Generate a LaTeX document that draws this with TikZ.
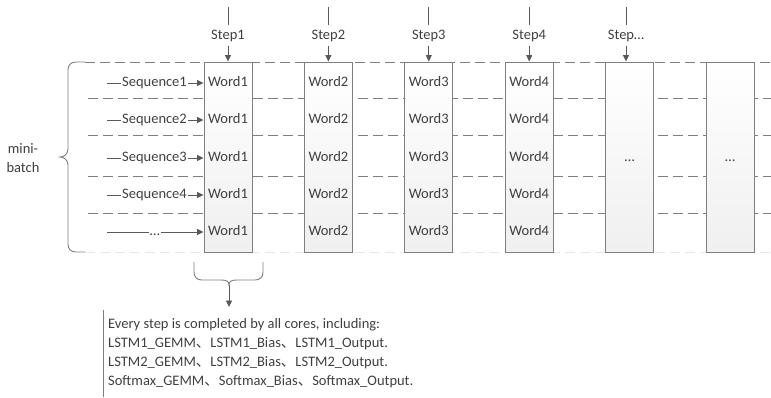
\documentclass[tikz,border=0pt]{standalone}
\usepackage{fontspec}
\setmainfont{Carlito}
\newfontfamily\cjk{Noto Sans CJK SC}
\usetikzlibrary{arrows.meta}
\definecolor{ink}{HTML}{404040}
\definecolor{linegray}{HTML}{595959}
\definecolor{boxgray}{HTML}{7F7F7F}
\definecolor{dashgray}{HTML}{7F7F7F}
\definecolor{faint}{HTML}{E8E8E8}

\begin{document}
\begin{tikzpicture}[x=1pt,y=-1pt,
  every node/.style={font=\fontsize{14.5}{18.5}\selectfont, text=ink},
  lbl/.style={inner sep=0.8pt, text height=7.2pt, text depth=0pt},
  steplbl/.style={inner xsep=1pt, inner ysep=7pt, text height=7.2pt, text depth=0pt},
  wordcol/.style={draw=boxgray, line width=0.9pt, top color=white, bottom color=black!6,
    minimum width=48pt, minimum height=190pt, inner sep=0pt},
  rowline/.style={draw=dashgray, line width=0.9pt, dash pattern=on 10pt off 5pt},
  conn/.style={draw=linegray, line width=0.9pt},
  tip/.style={-{Triangle[length=6.5pt,width=6pt]}},
  notebox/.style={anchor=north west, align=left, inner xsep=5pt, inner ysep=9pt,
    font=\fontsize{14.5}{19}\selectfont},
]
\useasboundingbox (0,0) rectangle (771,397);

% row separators
\foreach \y in {98,135,176,213} \draw[rowline] (88,\y) -- (771,\y);
\draw[rowline] (85,62) -- (771,62);
\draw[rowline, draw=faint] (85,252) -- (771,252);

% brace grouping the mini-batch
\draw[conn, draw=boxgray] (85,62) -- (76,62) .. controls (71,62) and (68,65) .. (68,70)
  -- (68,149) .. controls (68,154) and (64,157) .. (60,157)
  .. controls (64,157) and (68,160) .. (68,165)
  -- (68,244) .. controls (68,249) and (71,252) .. (76,252) -- (85,252);
\node[align=center] (mb) at (23,158) {mini-\\batch};

% word columns
\foreach \i/\x in {1/228,2/328.4,3/428.8,4/529.2}{
  \node[wordcol] (col\i) at (\x,157) {};
  \foreach \r/\y in {1/83,2/120,3/158,4/195,5/232}
    \node[lbl] (w\i\r) at (\x,\y) {Word\i};
}
\node[wordcol] (col5) at (629.6,157) {};
\node[lbl] (d5) at (629.6,158) {\dots};
\node[wordcol] (col6) at (730,157) {};
\node[lbl] (d6) at (730,158) {\dots};

% time steps
\foreach \i/\x in {1/228,2/328.4,3/428.8,4/529.2}{
  \coordinate (top\i) at (\x,7);
  \node[steplbl] (st\i) at (\x,35.5) {Step\i};
  \draw[conn] (top\i) -- (st\i.north);
  \draw[conn,tip] (st\i.south) -- (st\i.south |- col\i.north);
}
\coordinate (top5) at (626,7);
\node[steplbl] (st5) at (626,35.5) {Step\dots};
\draw[conn] (top5) -- (st5.north);
\draw[conn,tip] (st5.south) -- (st5.south |- col5.north);

% input sequences
\foreach \r/\y in {1/83,2/120,3/158,4/195}{
  \coordinate (s\r) at (107,\y);
  \node[lbl] (q\r) at (154.5,\y) {Sequence\r};
  \draw[conn] (s\r) -- (q\r.west);
  \draw[conn,tip] (q\r.east) -- (q\r.east -| col1.west);
}
\coordinate (s5) at (107,232);
\node[lbl] (q5) at (155,232) {\dots};
\draw[conn] (s5) -- (q5.west);
\draw[conn,tip] (q5.east) -- (q5.east -| col1.west);

% brace under the first step and its note
\coordinate (bt) at (229,285);
\draw[conn, draw=boxgray] (194,262) -- (194,272) .. controls (194,277) and (197,280) .. (202,280)
  -- (221,280) .. controls (226,280) and (229,281) .. (bt)
  .. controls (229,281) and (232,280) .. (237,280)
  -- (255,280) .. controls (260,280) and (263,277) .. (263,272) -- (263,262);
\node[notebox] (note) at (103,309.5) {Every step is completed by all cores, including:\\
  LSTM1\_GEMM{\cjk 、}LSTM1\_Bias{\cjk 、}LSTM1\_Output.\\
  LSTM2\_GEMM{\cjk 、}LSTM2\_Bias{\cjk 、}LSTM2\_Output.\\
  Softmax\_GEMM{\cjk 、}Softmax\_Bias{\cjk 、}Softmax\_Output.};
\draw[conn,tip,shorten >=2.5pt] (bt) -- (bt |- note.north);
\draw[conn, draw=boxgray] (note.north west) -- (note.south west);
\end{tikzpicture}
\end{document}
